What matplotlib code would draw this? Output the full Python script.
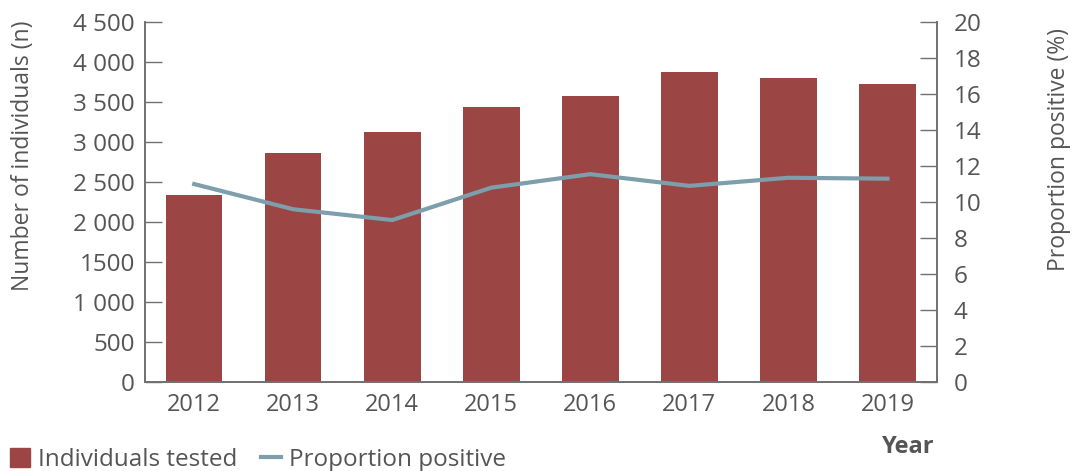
import matplotlib
matplotlib.use("Agg")
import matplotlib.pyplot as plt
from matplotlib.patches import Patch
from matplotlib.lines import Line2D

years = ["2012", "2013", "2014", "2015", "2016", "2017", "2018", "2019"]
tested = [2340, 2860, 3130, 3440, 3580, 3880, 3800, 3730]
positive = [11.0, 9.6, 9.0, 10.8, 11.55, 10.9, 11.35, 11.3]

left_ticks = [0, 500, 1000, 1500, 2000, 2500, 3000, 3500, 4000, 4500]
left_labels = ["0", "500", "1 000", "1500", "2 000", "2 500", "3 000", "3 500", "4 000", "4 500"]
right_ticks = list(range(0, 21, 2))

BAR = "#9b4545"
LINE = "#7c9fab"
TXT = "#555555"
SPINE = "#707070"

plt.rcParams['font.family'] = ['Open Sans', 'DejaVu Sans']

fig = plt.figure(figsize=(10.72, 4.71), dpi=100)
ax = fig.add_axes([0.135, 0.189, 0.739, 0.764])
ax2 = ax.twinx()

x = list(range(len(years)))
ax.bar(x, tested, width=0.57, color=BAR, zorder=2)
ax2.plot(x, positive, color=LINE, lw=3, zorder=3)

ax.set_xlim(-0.5, len(years) - 0.5)
ax.set_ylim(0, 4500)
ax2.set_ylim(0, 20)
ax.set_yticks(left_ticks)
ax.set_yticklabels(left_labels)
ax2.set_yticks(right_ticks)
ax.set_xticks(x)
ax.set_xticklabels(years)

for a in (ax, ax2):
    a.spines['top'].set_visible(False)
    for s in ('left', 'right', 'bottom'):
        a.spines[s].set_color(SPINE)
        a.spines[s].set_linewidth(1.2)
    a.tick_params(axis='y', direction='in', length=12, width=1, color=SPINE,
                  labelsize=17.5, labelcolor=TXT, pad=7)
ax2.tick_params(axis='y', pad=12)
ax.tick_params(axis='x', length=0, labelsize=17, labelcolor=TXT, pad=8)

ax.set_ylabel("Number of individuals (n)", fontsize=16.5, color=TXT)
ax.yaxis.set_label_coords(-0.139, 0.63)
ax2.set_ylabel("Proportion positive (%)", fontsize=16.5, color=TXT)
ax2.yaxis.set_label_coords(1.139, 0.645)

fig.text(0.872, 0.052, "Year", fontsize=17, color=TXT, fontweight='bold', ha='right', va='center')

handles = [Patch(color=BAR, label="Individuals tested"),
           Line2D([0], [0], color=LINE, lw=3, label="Proportion positive")]
fig.legend(handles=handles, loc='center left', bbox_to_anchor=(0.009, 0.024), ncol=2,
           frameon=False, fontsize=17.5, labelcolor=TXT, handlelength=0.85,
           handleheight=0.87, handletextpad=0.33, columnspacing=0.95,
           borderaxespad=0, borderpad=0)

fig.savefig("out.png", dpi=100)
